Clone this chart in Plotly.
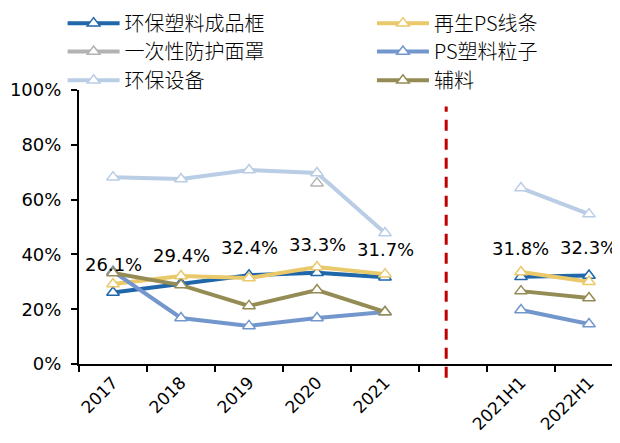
import plotly.graph_objects as go

categories = ["2017", "2018", "2019", "2020", "2021", " ", "2021H1", "2022H1"]

frame_box = [26.1, 29.4, 32.4, 33.3, 31.7, None, 31.8, 32.3]      # 环保塑料成品框
ps_strip = [29.2, 32.1, 31.4, 35.4, 32.8, None, 33.6, 30.0]       # 再生PS线条
mask = [None, None, None, 66.0, None, None, None, None]           # 一次性防护面罩
ps_pellet = [33.8, 16.8, 13.9, 16.8, 19.0, None, 19.7, 14.6]      # PS塑料粒子
equipment = [68.2, 67.5, 70.8, 69.7, 47.8, None, 64.2, 54.7]      # 环保设备
auxiliary = [33.2, 28.8, 21.2, 27.0, 19.0, None, 26.6, 24.1]      # 辅料

series = [
    ("环保塑料成品框", frame_box, "#1F66AA"),
    ("再生PS线条", ps_strip, "#E9C96A"),
    ("一次性防护面罩", mask, "#B3B3B3"),
    ("PS塑料粒子", ps_pellet, "#7397CC"),
    ("环保设备", equipment, "#B9CDE5"),
    ("辅料", auxiliary, "#958C55"),
]

FONT = "DejaVu Sans, Noto Sans CJK SC, sans-serif"
LEG_FONT = "Noto Sans CJK SC, DejaVu Sans, sans-serif"

fig = go.Figure()
legend_names = ["legend", "legend2", "legend3", "legend4", "legend5", "legend6"]
for i, (name, vals, color) in enumerate(series):
    fig.add_trace(go.Scatter(
        x=categories,
        y=[None if v is None else v / 100 for v in vals],
        name=name,
        mode="lines+markers",
        line=dict(color=color, width=4),
        marker=dict(symbol="triangle-up", size=11, color="white",
                    line=dict(color=color, width=1.5)),
        connectgaps=False,
        hoverinfo="skip",
        legend=legend_names[i],
    ))

# data labels for 环保塑料成品框 (x given as category index)
for idx, v in enumerate(frame_box):
    if v is None:
        continue
    fig.add_annotation(x=idx, y=v / 100, text=f"{v:.1f}%", showarrow=False,
                       yshift=28, yanchor="middle",
                       font=dict(family=FONT, size=18, color="black"))

# red dashed separator
fig.add_shape(type="line", xref="x", yref="paper", x0=4.9, x1=4.9,
              y0=-0.05, y1=0.94,
              line=dict(color="#C00000", width=3, dash="11px,8px"))

# legend positions (container coords)
leg_pos = [(0.0892, 0.9652), (0.5947, 0.9652), (0.0892, 0.9000),
           (0.5947, 0.9000), (0.0892, 0.8339), (0.5947, 0.8339)]
layout_legends = {}
for ln, (lx, ly) in zip(legend_names, leg_pos):
    layout_legends[ln] = dict(
        xref="container", yref="container", x=lx, y=ly,
        xanchor="left", yanchor="middle", orientation="h",
        bgcolor="rgba(0,0,0,0)", itemwidth=52,
        font=dict(family=LEG_FONT, size=20, color="black", weight=300),
    )

fig.update_layout(
    width=612, height=435,
    margin=dict(l=71, r=0, t=82, b=79, autoexpand=False),
    plot_bgcolor="white", paper_bgcolor="white",
    showlegend=True,
    **layout_legends,
    xaxis=dict(
        type="category", categoryorder="array", categoryarray=categories,
        range=[-0.5, 7.456], tickson="boundaries",
        ticks="outside", ticklen=6, tickwidth=2, tickcolor="black",
        showline=True, linecolor="black", linewidth=2,
        showgrid=False, zeroline=False, tickangle=-45,
        tickfont=dict(family=FONT, size=17, color="black"),
    ),
    yaxis=dict(
        range=[0, 1], dtick=0.2, tickformat=".0%",
        ticks="outside", ticklen=6, tickwidth=2, tickcolor="black",
        showline=True, linecolor="black", linewidth=2,
        showgrid=False, zeroline=False,
        ticklabelstandoff=6,
        tickfont=dict(family=FONT, size=18, color="black"),
    ),
)

fig.write_html("out.html")
